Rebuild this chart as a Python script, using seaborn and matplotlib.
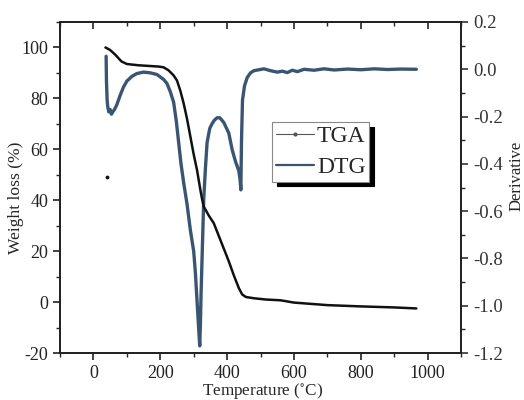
import numpy as np
import pandas as pd
import matplotlib
matplotlib.use("Agg")
import matplotlib.pyplot as plt
from matplotlib.lines import Line2D
from matplotlib.ticker import MultipleLocator, FuncFormatter
import seaborn as sns

# TGA: weight loss (%) vs temperature (°C)
tga_temp = [36, 50, 65, 84, 100, 135, 195, 210, 225, 240, 250, 260, 270, 280,
            290, 300, 310, 320, 325, 330, 345, 360, 375, 390, 405, 420, 435,
            445, 456, 480, 516, 560, 600, 700, 800, 900, 966]
tga_weight = [100, 99.0, 97.2, 94.5, 93.5, 93.0, 92.5, 92.2, 91.0, 89.0, 87.0,
              83.0, 78.0, 72.0, 65.0, 58.0, 51.8, 44.0, 40.5, 37.5, 34.0,
              31.0, 26.0, 21.0, 16.0, 10.5, 5.5, 3.0, 2.0, 1.5, 1.0, 0.7,
              -0.2, -1.2, -1.7, -2.1, -2.5]

# stray TGA reading near the start of the run
tga_stray_temp = [42]
tga_stray_weight = [49]

# DTG: derivative vs temperature (°C)
dtg_temp = [38, 39, 41, 43, 46, 50, 54, 58, 63, 70, 80, 90, 100, 115, 130, 150,
            170, 190, 210, 220, 230, 240, 248, 255, 262, 270, 280, 290, 300,
            305, 310, 315, 318, 320, 322, 326, 330, 335, 340, 348, 355, 362,
            370, 378, 390, 405, 415, 425, 435, 439, 441, 443, 446, 452, 460,
            470, 480, 495, 510, 530, 550, 565, 580, 595, 610, 630, 660, 690,
            720, 760, 800, 840, 880, 920, 966]
dtg_value = [0.055, -0.05, -0.13, -0.16, -0.18, -0.17, -0.19, -0.18, -0.17,
             -0.15, -0.11, -0.075, -0.05, -0.03, -0.018, -0.012, -0.015,
             -0.022, -0.043, -0.06, -0.095, -0.14, -0.22, -0.31, -0.40,
             -0.48, -0.57, -0.68, -0.77, -0.86, -0.98, -1.10, -1.17, -1.08,
             -0.95, -0.75, -0.55, -0.42, -0.31, -0.25, -0.23, -0.215, -0.205,
             -0.205, -0.225, -0.27, -0.34, -0.39, -0.43, -0.47, -0.51, -0.30,
             -0.13, -0.07, -0.035, -0.015, -0.006, -0.002, 0.002, -0.006,
             -0.012, -0.008, -0.014, -0.004, -0.01, 0.0, -0.004, 0.002,
             -0.003, 0.001, -0.002, 0.002, -0.001, 0.001, 0.0]

tga = pd.DataFrame({"Temperature": tga_temp, "Weight": tga_weight})
dtg = pd.DataFrame({"Temperature": dtg_temp, "Derivative": dtg_value})

sns.set_theme(style="ticks")
plt.rcParams["font.family"] = ["Liberation Serif", "DejaVu Serif"]
plt.rcParams["mathtext.fontset"] = "stix"
plt.rcParams["axes.unicode_minus"] = False

fig = plt.figure(figsize=(5.24, 4.0), dpi=100)
ax = fig.add_axes([0.1145, 0.1175, 0.7655, 0.8275])
ax2 = ax.twinx()

tga_color = "#111111"
dtg_color = "#3a5572"

sns.lineplot(data=dtg, x="Temperature", y="Derivative", ax=ax2, color=dtg_color,
             linewidth=2.4, estimator=None, sort=False)
sns.lineplot(data=tga, x="Temperature", y="Weight", ax=ax, color=tga_color,
             linewidth=1.8, estimator=None, sort=False)
ax.scatter(tga_stray_temp, tga_stray_weight, s=3, color=tga_color, zorder=5)

# draw TGA above the twin axes' DTG trace
ax.set_zorder(ax2.get_zorder() + 1)
ax.patch.set_visible(False)

ax.set_xlim(-100, 1100)
ax.set_ylim(-20, 110)
ax2.set_ylim(-1.2, 0.2)

ax.xaxis.set_major_locator(MultipleLocator(200))
ax.xaxis.set_minor_locator(MultipleLocator(100))
ax.yaxis.set_major_locator(MultipleLocator(20))
ax.yaxis.set_minor_locator(MultipleLocator(10))
ax2.yaxis.set_major_locator(MultipleLocator(0.2))
ax2.yaxis.set_minor_locator(MultipleLocator(0.1))
ax2.yaxis.set_major_formatter(FuncFormatter(lambda v, p: f"{v:.1f}"))

for a in (ax, ax2):
    for s in a.spines.values():
        s.set_linewidth(1.3)
        s.set_color("#222222")

ax.tick_params(axis="both", which="major", direction="out", length=5,
               width=1.2, labelsize=13, colors="#222222")
ax.tick_params(axis="both", which="minor", direction="out", length=3,
               width=1.0)
ax2.tick_params(axis="y", which="major", direction="out", length=5,
                width=1.2, labelsize=13.5, colors="#333333")
ax2.tick_params(axis="y", which="minor", direction="out", length=3, width=1.0)

top = ax.secondary_xaxis("top")
top.xaxis.set_major_locator(MultipleLocator(200))
top.xaxis.set_minor_locator(MultipleLocator(100))
top.tick_params(which="major", direction="in", length=5, width=1.2,
                labeltop=False)
top.tick_params(which="minor", direction="in", length=3, width=1.0)
top.spines["top"].set_linewidth(1.3)

ax.set_xlabel("Temperature ($^{\\circ}$C)", fontsize=12.3)
ax.xaxis.set_label_coords(0.505, -0.084)
ax.set_ylabel("Weight loss (%)", fontsize=12.6)
ax.yaxis.set_label_coords(-0.09, 0.468)
ax2.set_ylabel("Derivative", fontsize=12)
ax2.yaxis.set_label_coords(1.118, 0.535)

handles = [
    Line2D([], [], color="#555555", linewidth=0.8, marker=".", markersize=4),
    Line2D([], [], color=dtg_color, linewidth=1.6),
]
leg = ax.legend(handles, ["TGA", "DTG"], loc="upper left",
                bbox_to_anchor=(0.529, 0.698), borderaxespad=0.0,
                frameon=True, fancybox=False,
                shadow={"color": "black", "alpha": 1.0, "ox": 3.5, "oy": -3.5},
                fontsize=17, handlelength=1.6, handletextpad=0.15,
                labelspacing=0.4, borderpad=0.15, numpoints=1)
leg.get_frame().set_edgecolor("#888888")
leg.get_frame().set_linewidth(0.8)

fig.savefig("out.png", dpi=100)
